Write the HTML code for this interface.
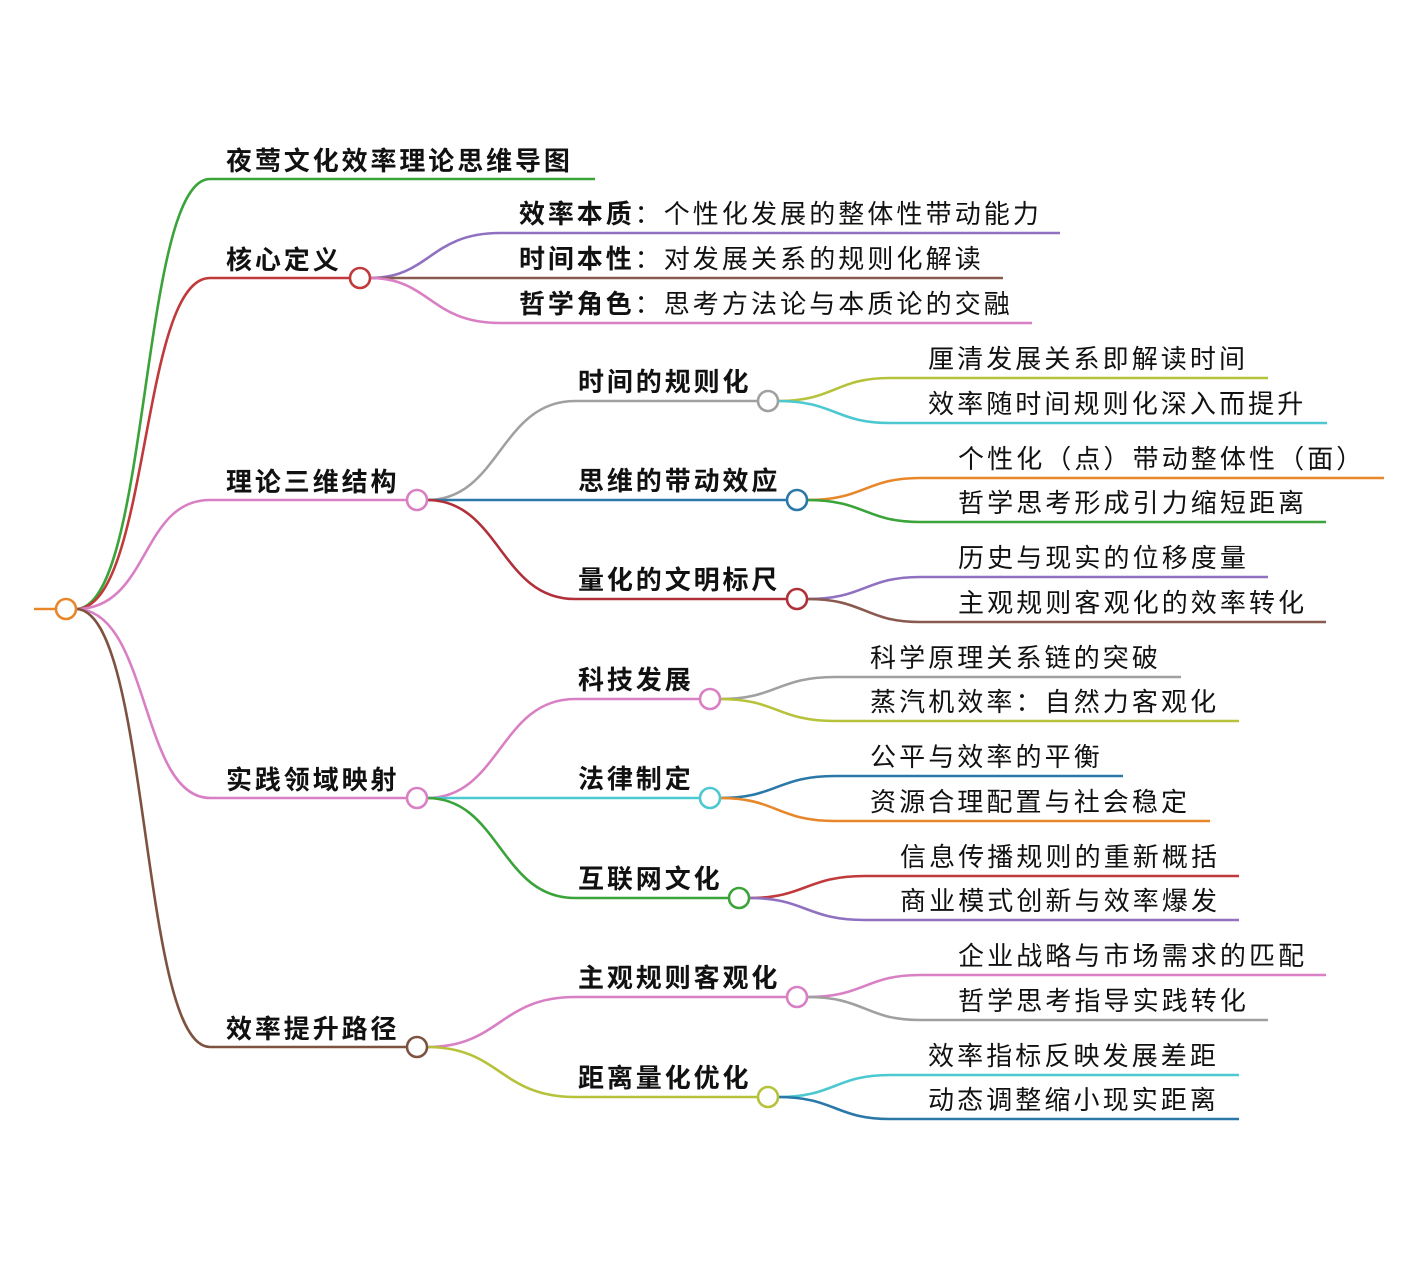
<!DOCTYPE html>
<html><head><meta charset="utf-8"><style>
html,body{margin:0;padding:0;background:#fff;}
svg{display:block;}
text{font-family:"Liberation Sans","Noto Sans CJK SC",sans-serif;fill:#111;}
.b{font-weight:bold;font-size:26px;letter-spacing:2.9px;}
.n{font-size:26px;letter-spacing:3.1px;}
path{fill:none;stroke-width:2.6;}
circle{fill:#fff;stroke-width:2.6;}
</style></head><body>
<svg width="1416" height="1279" viewBox="0 0 1416 1279" xmlns="http://www.w3.org/2000/svg">
<path d="M34,609 L56,609" stroke="#e8872a"/>
<path d="M76,609 C150,609 140,179 210,179 L595,179" stroke="#3aa33a"/>
<path d="M76,609 C150,609 140,278 210,278 L350,278" stroke="#c0393b"/>
<path d="M76,609 C150,609 140,500 210,500 L407,500" stroke="#d97fc4"/>
<path d="M76,609 C150,609 140,798 210,798 L407,798" stroke="#d97fc4"/>
<path d="M76,609 C150,609 140,1047 210,1047 L407,1047" stroke="#7d5340"/>
<circle cx="66" cy="609" r="10" stroke="#e8872a"/>
<text class="b" x="226" y="170">夜莺文化效率理论思维导图</text>
<text class="b" x="226" y="269">核心定义</text>
<text class="b" x="226" y="491">理论三维结构</text>
<text class="b" x="226" y="789">实践领域映射</text>
<text class="b" x="226" y="1038">效率提升路径</text>

<path d="M370,278 C430,278 430,233 500,233 L1060,233" stroke="#9070c0"/>
<path d="M370,278 L1003,278" stroke="#8a5a50"/>
<path d="M370,278 C430,278 430,323 500,323 L1032,323" stroke="#d97fc4"/>
<circle cx="360" cy="278" r="10" stroke="#c0393b"/>
<text x="519" y="223"><tspan class="b">效率本质</tspan><tspan class="n">：个性化发展的整体性带动能力</tspan></text>
<text x="519" y="268"><tspan class="b">时间本性</tspan><tspan class="n">：对发展关系的规则化解读</tspan></text>
<text x="519" y="313"><tspan class="b">哲学角色</tspan><tspan class="n">：思考方法论与本质论的交融</tspan></text>

<path d="M427,500 C500,500 500,401 575,401 L758,401" stroke="#a0a0a0"/>
<path d="M427,500 L787,500" stroke="#2a78a8"/>
<path d="M427,500 C500,500 500,599 575,599 L787,599" stroke="#b0303a"/>
<circle cx="417" cy="500" r="10" stroke="#d97fc4"/>
<text class="b" x="578" y="391">时间的规则化</text>
<text class="b" x="578" y="490">思维的带动效应</text>
<text class="b" x="578" y="589">量化的文明标尺</text>
<path d="M778,401 C835,401 835,378 890,378 L1268,378" stroke="#b5c23a"/>
<path d="M778,401 C835,401 835,423 890,423 L1327,423" stroke="#4cc8d0"/>
<circle cx="768" cy="401" r="10" stroke="#a0a0a0"/>
<path d="M807,500 C865,500 865,478 920,478 L1384,478" stroke="#e8872a"/>
<path d="M807,500 C865,500 865,522 920,522 L1326,522" stroke="#3aa33a"/>
<circle cx="797" cy="500" r="10" stroke="#2a78a8"/>
<path d="M807,599 C865,599 865,577 920,577 L1268,577" stroke="#9070c0"/>
<path d="M807,599 C865,599 865,622 920,622 L1326,622" stroke="#8a5a50"/>
<circle cx="797" cy="599" r="10" stroke="#b0303a"/>
<text class="n" x="928" y="368">厘清发展关系即解读时间</text>
<text class="n" x="928" y="413">效率随时间规则化深入而提升</text>
<text class="n" x="958" y="468">个性化（点）带动整体性（面）</text>
<text class="n" x="958" y="512">哲学思考形成引力缩短距离</text>
<text class="n" x="958" y="567">历史与现实的位移度量</text>
<text class="n" x="958" y="612">主观规则客观化的效率转化</text>

<path d="M427,798 C500,798 500,699 575,699 L700,699" stroke="#d97fc4"/>
<path d="M427,798 L700,798" stroke="#4cc8d0"/>
<path d="M427,798 C500,798 500,898 575,898 L729,898" stroke="#3aa33a"/>
<circle cx="417" cy="798" r="10" stroke="#d97fc4"/>
<text class="b" x="578" y="689">科技发展</text>
<text class="b" x="578" y="788">法律制定</text>
<text class="b" x="578" y="888">互联网文化</text>
<path d="M720,699 C777,699 777,677 835,677 L1181,677" stroke="#a0a0a0"/>
<path d="M720,699 C777,699 777,721 835,721 L1239,721" stroke="#b5c23a"/>
<circle cx="710" cy="699" r="10" stroke="#d97fc4"/>
<path d="M720,798 C777,798 777,776 835,776 L1123,776" stroke="#2a78a8"/>
<path d="M720,798 C777,798 777,821 835,821 L1210,821" stroke="#e8872a"/>
<circle cx="710" cy="798" r="10" stroke="#4cc8d0"/>
<path d="M749,898 C806,898 806,876 865,876 L1239,876" stroke="#c0393b"/>
<path d="M749,898 C806,898 806,920 865,920 L1239,920" stroke="#9070c0"/>
<circle cx="739" cy="898" r="10" stroke="#3aa33a"/>
<text class="n" x="870" y="667">科学原理关系链的突破</text>
<text class="n" x="870" y="711">蒸汽机效率：自然力客观化</text>
<text class="n" x="870" y="766">公平与效率的平衡</text>
<text class="n" x="870" y="811">资源合理配置与社会稳定</text>
<text class="n" x="900" y="866">信息传播规则的重新概括</text>
<text class="n" x="900" y="910">商业模式创新与效率爆发</text>

<path d="M427,1047 C500,1047 500,997 575,997 L787,997" stroke="#d97fc4"/>
<path d="M427,1047 C500,1047 500,1097 575,1097 L758,1097" stroke="#b5c23a"/>
<circle cx="417" cy="1047" r="10" stroke="#7d5340"/>
<text class="b" x="578" y="987">主观规则客观化</text>
<text class="b" x="578" y="1087">距离量化优化</text>
<path d="M807,997 C865,997 865,975 920,975 L1326,975" stroke="#d97fc4"/>
<path d="M807,997 C865,997 865,1020 920,1020 L1268,1020" stroke="#a0a0a0"/>
<circle cx="797" cy="997" r="10" stroke="#d97fc4"/>
<path d="M778,1097 C835,1097 835,1075 890,1075 L1239,1075" stroke="#4cc8d0"/>
<path d="M778,1097 C835,1097 835,1119 890,1119 L1239,1119" stroke="#2a78a8"/>
<circle cx="768" cy="1097" r="10" stroke="#b5c23a"/>
<text class="n" x="958" y="965">企业战略与市场需求的匹配</text>
<text class="n" x="958" y="1010">哲学思考指导实践转化</text>
<text class="n" x="928" y="1065">效率指标反映发展差距</text>
<text class="n" x="928" y="1109">动态调整缩小现实距离</text>
</svg>
</body></html>
